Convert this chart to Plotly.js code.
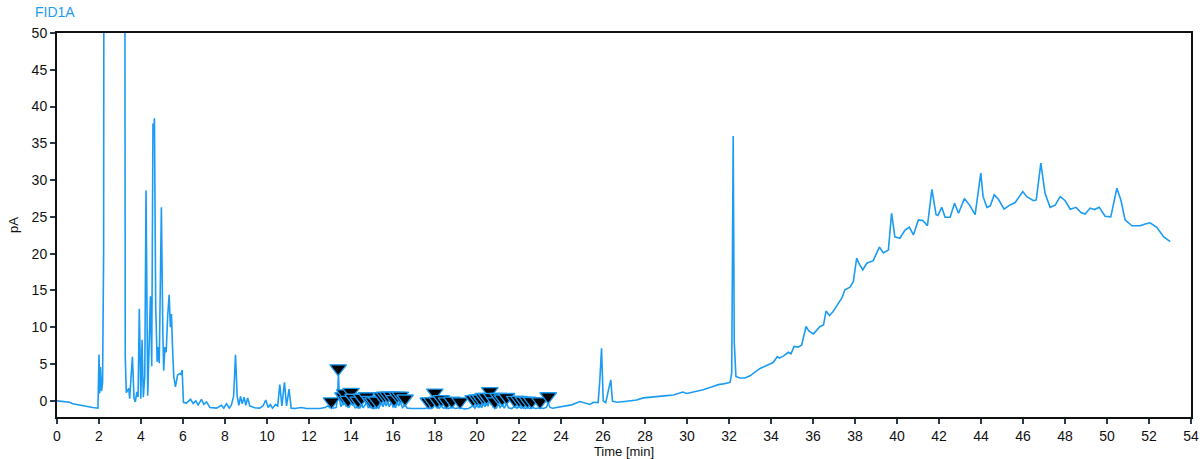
<!DOCTYPE html>
<html>
<head>
<meta charset="utf-8">
<script src="https://cdn.plot.ly/plotly-3.0.1.min.js"></script>
<style>html,body{margin:0;padding:0;background:#fff;}#chart{width:1200px;height:459px;}</style>
</head>
<body>
<div id="chart"></div>
<script>
// Chromatogram trace (time in min, signal in pA)
const timeMin = [
0,0.3,0.6,0.75,1.0,1.4,1.7,1.95,2.0,2.03,2.07,2.12,2.17,2.22,2.26,3.2,3.25,3.3,3.42,3.46,3.59,3.67,3.73,3.8,3.86,3.92,3.99,4.05,4.11,4.18,4.24,4.32,4.38,4.45,4.51,4.57,4.6,4.64,4.7,4.77,4.81,4.87,4.97,5.04,5.08,5.14,5.2,5.27,5.34,5.4,5.45,5.5,5.56,5.64,5.74,5.83,5.9,5.96,6.02,
6.16,6.36,6.48,6.61,6.72,6.88,6.99,7.12,7.28,7.6,7.83,7.94,8.07,8.2,8.3,8.41,8.5,8.58,8.66,8.74,8.82,8.91,8.99,9.08,9.18,9.41,9.65,9.81,9.94,10.06,10.16,10.26,10.41,10.51,10.61,10.71,10.83,10.93,11.05,11.15,11.32,11.64,11.88,12.2,12.52,12.76,12.9,
13.0,13.07,13.15,13.3,13.36,13.4,13.45,13.52,13.62,13.66,13.7,13.76,13.86,13.92,14.0,14.05,14.1,14.2,14.34,14.42,14.5,14.58,14.74,14.82,14.9,14.97,15.05,15.12,15.22,15.32,15.45,15.52,15.6,15.67,15.75,15.82,15.93,16.0,16.05,16.12,16.2,16.27,16.35,16.45,16.57,16.68,16.9,17.2,17.5,17.68,17.76,17.85,17.92,17.99,18.05,18.1,18.2,18.3,18.4,18.55,18.65,18.8,18.95,19.19,19.4,19.6,19.82,19.9,20.0,20.08,20.15,20.22,20.3,20.38,20.45,20.53,20.61,20.66,20.7,20.78,20.85,20.92,21.01,21.1,21.2,21.3,21.41,21.5,21.65,21.8,21.9,22.0,22.1,22.2,22.3,22.4,22.5,22.6,22.8,23.0,23.15,23.3,23.39,23.48,23.6,23.8,24.0,24.3,24.5,
24.9,25.1,25.38,25.54,25.77,25.85,25.93,26.01,26.13,26.27,26.37,26.45,26.66,27.13,27.6,27.92,28.4,29.03,29.35,29.8,29.99,30.3,30.77,31.2,31.49,31.73,32.05,32.13,32.2,32.25,32.33,32.53,32.76,33.0,33.16,33.48,33.87,34.1,34.3,34.4,34.6,34.83,34.95,35.1,35.3,35.46,35.67,35.8,36.02,36.34,36.5,36.62,36.78,36.95,37.13,37.37,37.52,37.76,37.92,38.08,38.2,38.37,38.56,38.87,39.16,39.35,39.59,39.74,39.9,40.14,40.38,40.59,40.78,41.02,41.23,41.45,41.66,41.86,41.95,42.13,42.29,42.53,42.74,42.93,43.21,43.48,43.72,43.99,44.1,44.28,44.44,44.63,44.83,45.1,45.31,45.63,45.99,46.18,46.5,46.63,46.85,47.05,47.29,47.53,47.77,48.01,48.25,48.53,48.76,48.96,49.2,49.4,49.63,49.91,50.18,50.47,50.66,50.86,51.19,51.58,51.82,52.05,52.37,52.69,53.01
];
const signalPA = [
0,-0.05,-0.2,-0.4,-0.55,-0.75,-0.9,-1.0,6.3,1.0,4.6,1.3,2.5,20,150,150,6.0,1.1,1.7,0.3,6.0,0.3,-0.15,1.2,0.5,12.5,0.3,8.3,0.5,3.3,28.6,0.7,7.6,14.2,4.7,37.7,36.5,38.4,12.8,5.3,7.3,5.1,26.3,9.3,4.1,7.3,6.6,11.5,14.4,10.0,11.8,7.3,3.3,1.9,3.5,3.7,3.6,4.2,-0.2,
-0.3,0.2,-0.35,0,-0.55,0.2,-0.5,-0.15,-0.9,-1.0,-0.6,-1.0,-0.4,-1.0,-0.6,0.6,6.25,0.6,-0.6,0.6,-0.4,0.5,-0.6,0.4,-0.7,-0.95,-1.0,-0.7,0.1,-0.9,-0.5,-1.0,-0.5,-0.7,2.2,-0.7,2.5,-0.7,1.6,-1.0,-1.05,-0.9,-1.05,-1.1,-1.05,-0.9,-0.7,
-0.95,-0.85,-1.0,-0.9,0.5,3.6,0.3,-0.8,-0.25,-0.6,0.15,-0.7,-0.75,-0.9,0.35,-0.6,-0.45,-0.95,-0.85,-1.0,-0.45,-0.95,-0.25,-0.9,-0.75,-1.0,-0.95,-1.05,-0.85,-1.0,-0.25,-0.8,-0.15,-0.7,-0.15,-0.8,-0.15,-0.8,-0.65,-0.95,-0.15,-0.7,-0.15,-0.9,-0.55,-1.0,-1.05,-1.1,-1.05,-0.95,-1.05,-0.95,-0.9,0.25,-0.8,-0.85,-1.0,-0.65,-1.0,-0.95,-1.05,-0.85,-1.05,-0.95,-1.1,-1.05,-0.65,-1.0,-0.55,-0.95,-0.55,-0.95,-0.35,-0.8,-0.35,-0.7,0.45,-0.5,-0.35,-0.9,-0.95,-1.0,-0.35,-0.9,-0.55,-1.0,-0.35,-0.95,-1.05,-0.75,-1.0,-0.75,-1.0,-0.85,-1.05,-0.85,-1.05,-0.9,-1.05,-0.95,-1.05,-0.9,-0.3,-0.9,-1.0,-0.9,-0.75,-0.6,-0.55,
-0.1,-0.3,-0.5,-0.2,-0.25,2.85,7.15,0.0,-0.25,1.6,2.85,-0.05,-0.2,-0.05,0.1,0.4,0.5,0.7,0.8,1.2,1.0,1.2,1.5,1.9,2.2,2.3,2.5,3.8,36.0,8.0,3.3,3.1,3.1,3.4,3.7,4.4,4.9,5.2,6.0,5.8,6.1,6.6,6.4,7.4,7.3,7.6,10.1,9.5,9.1,10.1,10.3,12.2,11.6,12.1,12.9,13.95,15.1,15.45,16.2,19.4,18.6,17.8,18.7,19.05,20.9,20.1,20.5,25.5,22.3,22.1,23.2,23.6,22.55,24.6,24.5,23.8,28.75,25.3,25.2,26.3,24.95,24.95,26.85,25.5,27.5,26.5,25.3,30.95,27.75,26.3,26.5,28.0,27.4,26.05,26.5,26.95,28.45,27.75,27.2,27.3,32.3,28.2,26.3,26.6,27.75,27.2,26.05,26.3,25.6,25.4,26.2,26.0,26.3,25.1,25.0,28.9,27.3,24.6,23.8,23.8,24.05,24.2,23.6,22.3,21.65
];
// Integrated peak markers (time in min, marker level in pA)
const peakMarkTime = [13.07,13.39,13.62,13.7,13.86,14.0,14.1,14.34,14.5,14.74,14.9,15.05,15.22,15.45,15.6,15.75,15.93,16.05,16.2,16.35,16.57,17.68,17.85,17.99,18.1,18.3,18.55,18.8,19.19,19.82,20.0,20.15,20.3,20.45,20.61,20.7,20.85,21.01,21.2,21.41,21.8,22.0,22.2,22.4,22.6,23.0,23.39];
const peakMarkPA = [-0.1,4.4,0.6,1.0,0.1,1.2,0.4,0.0,0.4,0.6,0.1,-0.1,0.0,0.6,0.7,0.7,0.7,0.2,0.7,0.7,0.3,-0.1,-0.1,1.1,0.0,0.2,-0.1,0.0,-0.1,0.2,0.3,0.3,0.5,0.5,1.3,0.5,-0.1,0.5,0.3,0.5,0.1,0.1,0.0,0.0,-0.05,-0.1,0.6];
const xTicks = [0,2,4,6,8,10,12,14,16,18,20,22,24,26,28,30,32,34,36,38,40,42,44,46,48,50,52,54];
const yTicks = [0,5,10,15,20,25,30,35,40,45,50];

const lineColor = '#1b9bf3';
const traces = [
  {x: timeMin, y: signalPA, type: 'scatter', mode: 'lines',
   line: {color: lineColor, width: 1.6}, hoverinfo: 'x+y', showlegend: false},
  {x: peakMarkTime, y: peakMarkPA, type: 'scatter', mode: 'markers',
   marker: {symbol: 'triangle-down', size: 14.5, color: '#000000', line: {color: lineColor, width: 1.3}},
   showlegend: false}
];
const axisFont = {family: 'Liberation Sans, Arial, sans-serif', size: 14, color: '#111111'};
const layout = {
  width: 1200, height: 459,
  margin: {l: 57, r: 9, t: 33, b: 42},
  paper_bgcolor: '#ffffff', plot_bgcolor: '#ffffff',
  title: {text: 'FID1A', x: 35/1200, xanchor: 'left', xref: 'container', y: 1 - 12/459, yanchor: 'middle', yref: 'container',
          font: {family: 'Liberation Sans, Arial, sans-serif', size: 14, color: '#1e9bf0'}},
  xaxis: {range: [0, 54], tickvals: xTicks, ticktext: xTicks.map(String), ticks: 'outside', ticklen: 5, tickwidth: 1.5, tickcolor: '#2b3a4a',
          showline: true, linecolor: '#111111', linewidth: 2, mirror: true, showgrid: false, zeroline: false,
          tickfont: axisFont,
          title: {text: 'Time [min]', standoff: 2, font: {family: 'Liberation Sans, Arial, sans-serif', size: 13, color: '#111111'}}},
  yaxis: {range: [-2.2, 50], tickvals: yTicks, ticktext: yTicks.map(String), ticks: 'outside', ticklen: 5, tickwidth: 1.5, tickcolor: '#2b3a4a',
          showline: true, linecolor: '#111111', linewidth: 2, mirror: true, showgrid: false, zeroline: false,
          tickfont: axisFont,
          title: {text: 'pA', standoff: 10, font: {family: 'Liberation Sans, Arial, sans-serif', size: 13, color: '#111111'}}},
  showlegend: false
};
Plotly.newPlot('chart', traces, layout, {displayModeBar: false, responsive: false});
</script>
</body>
</html>
